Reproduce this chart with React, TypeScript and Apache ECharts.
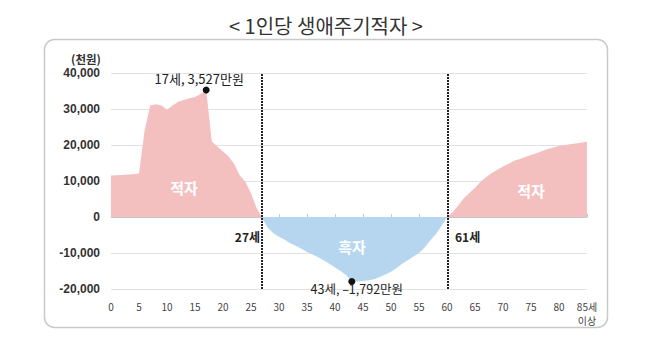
import React, { useEffect, useRef } from "react";
import * as echarts from "echarts";

const TITLE = "< 1인당 생애주기적자 >";
const UNIT = "(천원)";
// 1인당 생애주기적자 (천원), ages 0 .. 85세 이상
const deficit = [
  11500, 11600, 11700, 11800, 11900, 12100, 24000, 31000, 31300, 31000,
  29800, 31000, 32000, 32500, 33000, 33300, 34200, 35270, 21000, 19600,
  18200, 16800, 14700, 11500, 9800, 6500, 2500, -300, -3000, -4500,
  -5500, -6300, -7300, -8000, -8800, -9700, -10400, -11200, -12100, -13000,
  -14000, -15000, -16200, -17920, -17900, -17800, -17600, -17300, -16700, -16000,
  -15200, -14200, -13000, -12000, -11000, -10000, -8500, -6500, -4800, -2500,
  -100, 1300, 3200, 5200, 6700, 8100, 9800, 11100, 12200, 13100,
  14000, 14800, 15600, 16100, 16700, 17200, 17700, 18300, 18900, 19300,
  19700, 20000, 20200, 20400, 20600, 21000,
];
const ageMax = 85;
const lastAgeLabel = "85세\n이상";
const dividerAges = [27, 60.2];
const dividerLabels = ["27세", "61세"];
const extremes = [
  { age: 17, value: 35270, label: "17세, 3,527만원" },
  { age: 43, value: -17920, label: "43세, –1,792만원" },
];
const regionLabels = ["적자", "흑자", "적자"];

const PINK = "#f3bfbf";
const BLUE = "#b6d6f0";
const FONT = "'Noto Sans CJK KR', 'Noto Sans', sans-serif";

export default function App() {
  const ref = useRef<HTMLDivElement>(null);
  useEffect(() => {
    if (!ref.current) return;
    const chart = echarts.init(ref.current, undefined, { renderer: "svg" });
    const seriesData = deficit.map((v, i) => [i, v]);
    chart.setOption({
      animation: false,
      textStyle: { fontFamily: FONT },
      grid: { left: 111, right: 60, top: 73, bottom: 64 },
      visualMap: {
        type: "piecewise",
        show: false,
        dimension: 1,
        seriesIndex: 0,
        pieces: [
          { gte: -100000, lt: 0, color: BLUE },
          { gte: 0, lte: 100000, color: PINK },
        ],
      },
      xAxis: [
        {
          type: "value",
          min: 0,
          max: ageMax,
          interval: 5,
          axisLine: { show: false, onZero: false },
          axisTick: { show: false },
          splitLine: { show: false },
          axisLabel: {
            margin: 10,
            fontSize: 10,
            color: "#444",
            lineHeight: 14,
            fontFamily: FONT,
            formatter: (v: number) => (v === ageMax ? lastAgeLabel : String(v)),
          },
        },
        {
          type: "value",
          min: 0,
          max: ageMax,
          interval: 5,
          position: "bottom",
          axisLine: { show: true, onZero: true, lineStyle: { color: "#c8c8c8", width: 1 } },
          axisTick: { show: true, inside: true, length: 3, lineStyle: { color: "#c8c8c8" } },
          axisLabel: { show: false },
          splitLine: { show: false },
        },
      ],
      yAxis: {
        type: "value",
        min: -20000,
        max: 40000,
        interval: 10000,
        axisLine: { show: false },
        axisTick: { show: false },
        splitLine: { lineStyle: { color: "#e2e2e2", width: 1 } },
        axisLabel: {
          margin: 11,
          fontSize: 12,
          fontWeight: "bold",
          color: "#333",
          fontFamily: "'Liberation Sans', Arial, sans-serif",
          formatter: (v: number) => v.toLocaleString("en-US"),
        },
      },
      series: [
        {
          type: "line",
          xAxisIndex: 0,
          data: seriesData,
          showSymbol: false,
          symbol: "none",
          lineStyle: { width: 0 },
          areaStyle: { opacity: 1 },
          z: 2,
          markLine: {
            silent: true,
            symbol: "none",
            label: { show: false },
            lineStyle: { color: "#222", width: 2, type: [2, 1] },
            data: dividerAges.map((a) => ({ xAxis: a })),
            z: 5,
          },
          markPoint: {
            symbol: "circle",
            symbolSize: 7,
            itemStyle: { color: "#111" },
            data: extremes.map((e, i) => ({
              coord: [e.age, e.value],
              label: {
                show: true,
                formatter: e.label,
                position: i === 0 ? "top" : "bottom",
                offset: i === 0 ? [-7, 1] : [5, -6],
                distance: 3,
                fontSize: i === 0 ? 13 : 12.5,
                lineHeight: 12,
                color: "#222",
                fontFamily: FONT,
              },
            })),
          },
        },
      ],
      graphic: [
        {
          type: "rect",
          shape: { x: 44.5, y: 39.5, width: 563, height: 288, r: 10 },
          style: { fill: "none", stroke: "#c9c9c9", lineWidth: 1.5 },
          z: -1,
        },
        {
          type: "text",
          x: 326,
          y: 25,
          style: {
            text: TITLE,
            fontSize: 20,
            fill: "#333",
            fontFamily: FONT,
            align: "center",
            verticalAlign: "middle",
          },
        },
        {
          type: "text",
          x: 86,
          y: 59,
          style: {
            text: UNIT,
            fontSize: 11.5,
            fontWeight: "bold",
            fill: "#333",
            fontFamily: FONT,
            align: "center",
            verticalAlign: "middle",
          },
        },
        {
          type: "text",
          x: 260,
          y: 236,
          style: {
            text: dividerLabels[0],
            fontSize: 12,
            fontWeight: "bold",
            fill: "#222",
            fontFamily: FONT,
            align: "right",
            verticalAlign: "middle",
          },
          z: 10,
        },
        {
          type: "text",
          x: 455,
          y: 236,
          style: {
            text: dividerLabels[1],
            fontSize: 12,
            fontWeight: "bold",
            fill: "#222",
            fontFamily: FONT,
            align: "left",
            verticalAlign: "middle",
          },
          z: 10,
        },
        ...[
          [184, 187],
          [352, 246],
          [531, 190],
        ].map(([x, y], i) => ({
          type: "text",
          x,
          y,
          style: {
            text: regionLabels[i],
            fontSize: 15,
            fontWeight: "bold",
            fill: "#ffffff",
            fontFamily: FONT,
            align: "center",
            verticalAlign: "middle",
          },
          z: 10,
        })),
      ],
    });
    return () => chart.dispose();
  }, []);
  return (
    <div
      ref={ref}
      style={{ position: "fixed", left: 0, top: 0, width: 647, height: 353, background: "#fff" }}
    />
  );
}
